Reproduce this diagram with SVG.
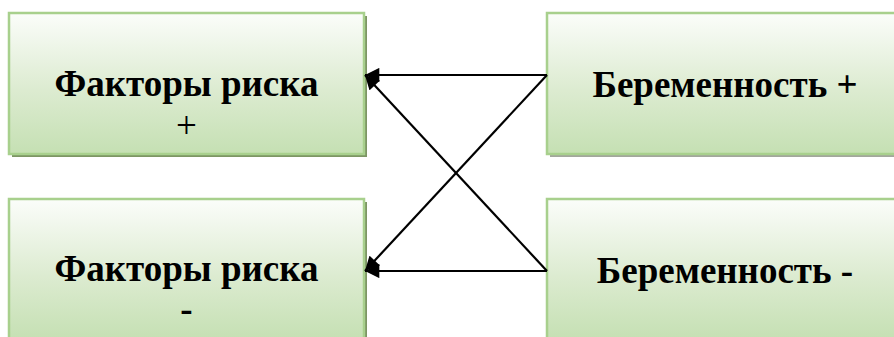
<svg xmlns="http://www.w3.org/2000/svg" width="894" height="337" viewBox="0 0 894 337">
  <defs>
    <linearGradient id="fill" x1="0" y1="0" x2="0" y2="1">
      <stop offset="0" stop-color="#fbfdfa"/>
      <stop offset="0.55" stop-color="#dcebd0"/>
      <stop offset="1" stop-color="#c5e0b3"/>
    </linearGradient>
    <marker id="arrow" viewBox="0 0 10 10" refX="10" refY="5" markerWidth="7" markerHeight="6.5" orient="auto" markerUnits="strokeWidth">
      <path d="M0,0 L10,5 L0,10 Z" fill="#000"/>
    </marker>
  </defs>
  <style>
    .box { fill: url(#fill); stroke: #a8d08d; stroke-width: 2.5; }
    .shadow-l { fill: #7d9664; }
    .shadow-r { fill: #a3a79d; }
    .label { font-family: "Liberation Serif", "Times New Roman", serif; font-weight: bold; font-size: 37px; fill: #000; text-anchor: middle; }
    .sign { font-weight: normal; }
    .conn { stroke: #000; stroke-width: 2.2; fill: none; marker-end: url(#arrow); }
  </style>

  <rect width="894" height="337" fill="#fff"/>

  <g id="risk-plus">
    <rect class="shadow-l" x="12" y="16" width="355" height="141"/>
    <rect class="box" x="9" y="13" width="355" height="141"/>
    <text class="label" x="186.5" y="96">Факторы риска</text>
    <text class="label sign" x="186.5" y="138">+</text>
  </g>

  <g id="pregnancy-plus">
    <rect class="shadow-r" x="550" y="16" width="355" height="141"/>
    <rect class="box" x="547" y="13" width="355" height="141"/>
    <text class="label" x="725" y="97">Беременность +</text>
  </g>

  <g id="risk-minus">
    <rect class="shadow-l" x="12" y="202" width="355" height="141"/>
    <rect class="box" x="9" y="199" width="355" height="141"/>
    <text class="label" x="186.5" y="281">Факторы риска</text>
    <text class="label" x="186.5" y="321">-</text>
  </g>

  <g id="pregnancy-minus">
    <rect class="shadow-r" x="550" y="202" width="355" height="141"/>
    <rect class="box" x="547" y="199" width="355" height="141"/>
    <text class="label" x="725" y="283">Беременность -</text>
  </g>

  <g id="connectors">
    <line class="conn" x1="547" y1="75" x2="365" y2="75"/>
    <line class="conn" x1="547" y1="271" x2="365" y2="75"/>
    <line class="conn" x1="547" y1="75" x2="365" y2="271"/>
    <line class="conn" x1="547" y1="271" x2="365" y2="271"/>
  </g>
</svg>
